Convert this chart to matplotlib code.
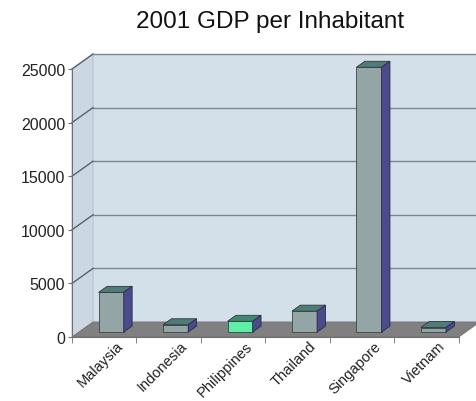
import numpy as np
import matplotlib
matplotlib.use("Agg")
import matplotlib.pyplot as plt
from matplotlib.patches import Polygon

plt.rcParams['font.family'] = ['Liberation Sans', 'DejaVu Sans']

# data
countries = ['Malaysia', 'Indonesia', 'Philippines', 'Thailand', 'Singapore', 'Vietnam']
gdp = [3700, 680, 1000, 1950, 24700, 420]
yticks = [0, 5000, 10000, 15000, 20000, 25000]

front_col = ['#93a5a5', '#93a5a5', '#5cf0a6', '#93a5a5', '#93a5a5', '#93a5a5']
top_col = ['#4d7d77', '#4d7d77', '#3f8a74', '#4d7d77', '#4d7d77', '#4d7d77']
side_col = '#4a4a8c'

# fake 3d depth, in data units
dx, dy = 0.326, 1400
f = 0.33      # where the bars sit in depth
bd = 0.40     # bar depth fraction
w = 0.39

fig = plt.figure(figsize=(4.77, 4.02), dpi=100)
ax = fig.add_axes([72/477, (402-338)/402, 408/477, 286/402])
ax.set_xlim(0, 6.0 + 0.33)
ax.set_ylim(0, 26680)
ax.patch.set_visible(False)

top = yticks[-1]
# side wall
ax.add_patch(Polygon([(0, 0), (dx, dy), (dx, top+dy), (0, top)], closed=True,
                     fc='#cbd8e3', ec='#b0bcc8', lw=0.6, zorder=0, clip_on=False))
# back wall
ax.add_patch(Polygon([(dx, dy), (6.5, dy), (6.5, top+dy), (dx, top+dy)], closed=True,
                     fc='#d3dfe9', ec='#c0ccd6', lw=0.6, zorder=0, clip_on=False))
# floor
ax.add_patch(Polygon([(0, 0), (6, 0), (6+dx, dy), (dx, dy)], closed=True,
                     fc='#808080', ec='#707070', lw=0.6, zorder=1, clip_on=False))

# grid lines on walls
for v in yticks[1:]:
    ax.plot([dx, 6.5], [v+dy, v+dy], color='#7f8890', lw=1.0, zorder=1, clip_on=False)
    ax.plot([0, dx], [v, v+dy], color='#5a6068', lw=1.0, zorder=1, clip_on=False)

# bars
x = np.arange(len(countries))
xl = x + 0.5 - w/2 + f*dx
base = f*dy
ax.bar(xl, gdp, width=w, bottom=base, align='edge', color=front_col,
       edgecolor='#3c4444', lw=0.6, zorder=3)
for i in range(len(countries)):
    t = base + gdp[i]
    l, r = xl[i], xl[i] + w
    ax.add_patch(Polygon([(l, t), (r, t), (r+bd*dx, t+bd*dy), (l+bd*dx, t+bd*dy)],
                         closed=True, fc=top_col[i], ec='#2f3a3a', lw=0.6, zorder=3))
    ax.add_patch(Polygon([(r, base), (r+bd*dx, base+bd*dy), (r+bd*dx, t+bd*dy), (r, t)],
                         closed=True, fc=side_col, ec='#2a2a4a', lw=0.6, zorder=3))

# axes
for s in ['top', 'right']:
    ax.spines[s].set_visible(False)
ax.spines['left'].set_bounds(0, top)
ax.spines['bottom'].set_bounds(0, 6)
ax.spines['left'].set_color('#707070')
ax.spines['bottom'].set_color('#707070')
ax.spines['left'].set_zorder(4)
ax.spines['bottom'].set_zorder(4)

ax.set_yticks(yticks)
ax.set_yticklabels([str(v) for v in yticks], fontsize=11.5, color='#222222')
ax.tick_params(axis='y', length=3, color='#707070', pad=2)

ax.set_xticks(x + 0.68)
ax.set_xticklabels(countries, rotation=45, ha='right', rotation_mode='anchor',
                   fontsize=10.5, color='#222222')
ax.set_xticks(np.arange(7), minor=True)
ax.tick_params(axis='x', which='major', length=0, pad=1)
ax.tick_params(axis='x', which='minor', length=4, color='#707070')

fig.text(0.566, 0.945, '2001 GDP per Inhabitant', ha='center', va='center',
         fontsize=17.5, color='#111111')

fig.savefig('out.png', dpi=100)
